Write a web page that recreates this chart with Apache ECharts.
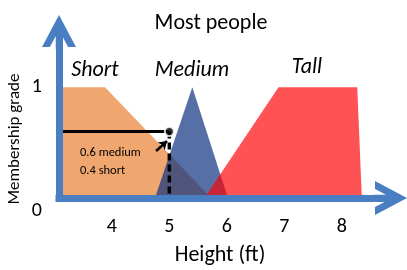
<!DOCTYPE html>
<html><head><meta charset="utf-8">
<script src="https://cdn.jsdelivr.net/npm/echarts@6/dist/echarts.min.js"></script>
<style>html,body{margin:0;padding:0;background:#fff}#c{width:407px;height:270px}</style>
</head><body><div id="c"></div>
<script>
// ---- data ----
const heightTicks = [4, 5, 6, 7, 8];
const gradeTicks = [0, 1];
const setNames = ['Short', 'Medium', 'Tall'];
const shortX = [3.08, 3.88, 5.73];
const shortY = [1, 1, 0];
const mediumX = [4.75, 5.40, 6.02];
const mediumY = [0, 1, 0];
const tallX = [5.61, 6.90, 8.27, 8.35];
const tallY = [0, 1, 1, 0];
const sampleHeight = 5;
const sampleMedium = 0.6;
const sampleShort = 0.4;
const titleText = 'Most people';
const xName = 'Height (ft)';
const yName = 'Membership grade';

// ---- chart ----
const FONT = 'Carlito, Lato, sans-serif';
const X_MIN = 3.08, X_MAX = 8.84, Y_MIN = 0, Y_MAX = 1.5;
const AXIS_BLUE = '#4A7EC2';
const chevron = 'path://M18 0 L35 32 L27.1 32 L21.25 21 L21.25 34 L14.75 34 L14.75 21 L8.9 32 L1 32 Z';
const pts = (xs, ys) => xs.map((x, i) => [x, ys[i]]);

const chart = echarts.init(document.getElementById('c'), null, {renderer: 'canvas'});
const axisLine = {
  show: true,
  symbol: ['none', chevron],
  symbolSize: [34, 34],
  lineStyle: {color: AXIS_BLUE, width: 7, cap: 'square'}
};
chart.setOption({
  animation: false,
  backgroundColor: '#fff',
  grid: {left: 59, right: 17, top: 32, bottom: 72},
  xAxis: {
    type: 'value', min: X_MIN, max: X_MAX, z: 10,
    axisLine: axisLine,
    axisTick: {show: false},
    splitLine: {show: false},
    axisLabel: {customValues: heightTicks, margin: 19, color: '#000', fontSize: 20, fontFamily: FONT}
  },
  yAxis: {
    type: 'value', min: Y_MIN, max: Y_MAX, z: 10,
    axisLine: axisLine,
    axisTick: {show: false},
    splitLine: {show: false},
    axisLabel: {
      customValues: gradeTicks, margin: 17, color: '#000', fontSize: 20, fontFamily: FONT,
      formatter: v => v === 0 ? '{z|' + v + '}' : '{o|' + v + '}',
      rich: {
        z: {padding: [26, 0, 0, 0], fontSize: 20, fontFamily: FONT, color: '#000'},
        o: {fontSize: 20, fontFamily: FONT, color: '#000'}
      }
    }
  },
  series: [
    {type: 'line', name: setNames[0], data: pts(shortX, shortY), symbol: 'none', silent: true,
     lineStyle: {width: 0, opacity: 0}, areaStyle: {color: '#EFA66F', opacity: 1}, z: 2},
    {type: 'line', name: setNames[1], data: pts(mediumX, mediumY), symbol: 'none', silent: true,
     lineStyle: {width: 0, opacity: 0}, areaStyle: {color: 'rgba(14,51,128,0.7)', opacity: 1}, z: 2},
    {type: 'line', name: setNames[2], data: pts(tallX, tallY), symbol: 'none', silent: true,
     lineStyle: {width: 0, opacity: 0}, areaStyle: {color: 'rgba(255,0,4,0.68)', opacity: 1}, z: 2},
    {type: 'line', data: [[X_MIN, sampleMedium], [sampleHeight, sampleMedium]], symbol: 'none', silent: true,
     lineStyle: {color: '#000', width: 3}, z: 4},
    {type: 'line', data: [[sampleHeight, sampleMedium], [sampleHeight, 0]], symbol: 'none', silent: true,
     lineStyle: {color: '#000', width: 3.5, type: [7, 4]}, z: 4,
     markLine: {
       silent: true, symbol: ['none', 'arrow'], symbolSize: 8,
       label: {show: false},
       lineStyle: {color: '#000', width: 2.5, type: 'solid'},
       data: [[{coord: [4.77, 0.425]}, {coord: [4.96, 0.515]}]]
     }},
    {type: 'scatter', data: [[sampleHeight, sampleMedium]], symbolSize: 9, silent: true,
     itemStyle: {color: '#000', borderColor: '#fff', borderWidth: 2}, z: 6}
  ],
  graphic: [
    {type: 'text', x: 211, y: 23, style: {text: titleText, font: '22px ' + FONT, fill: '#000', align: 'center', verticalAlign: 'middle'}},
    {type: 'text', x: 95, y: 70, style: {text: setNames[0], font: 'italic 22px ' + FONT, fill: '#000', align: 'center', verticalAlign: 'middle'}},
    {type: 'text', x: 192, y: 70, style: {text: setNames[1], font: 'italic 22px ' + FONT, fill: '#000', align: 'center', verticalAlign: 'middle'}},
    {type: 'text', x: 307, y: 67, style: {text: setNames[2], font: 'italic 22px ' + FONT, fill: '#000', align: 'center', verticalAlign: 'middle'}},
    {type: 'text', x: 15, y: 139, rotation: Math.PI / 2, style: {text: yName, font: '17px ' + FONT, fill: '#000', align: 'center', verticalAlign: 'middle'}},
    {type: 'text', x: 220, y: 255, style: {text: xName, font: '22px ' + FONT, fill: '#000', align: 'center', verticalAlign: 'middle'}},
    {type: 'text', x: 80, y: 153, z: 20, style: {text: sampleMedium + ' medium', font: '12.5px ' + FONT, fill: '#000', align: 'left', verticalAlign: 'middle'}},
    {type: 'text', x: 80, y: 171, z: 20, style: {text: sampleShort + ' short', font: '12.5px ' + FONT, fill: '#000', align: 'left', verticalAlign: 'middle'}}
  ]
});
</script></body></html>
